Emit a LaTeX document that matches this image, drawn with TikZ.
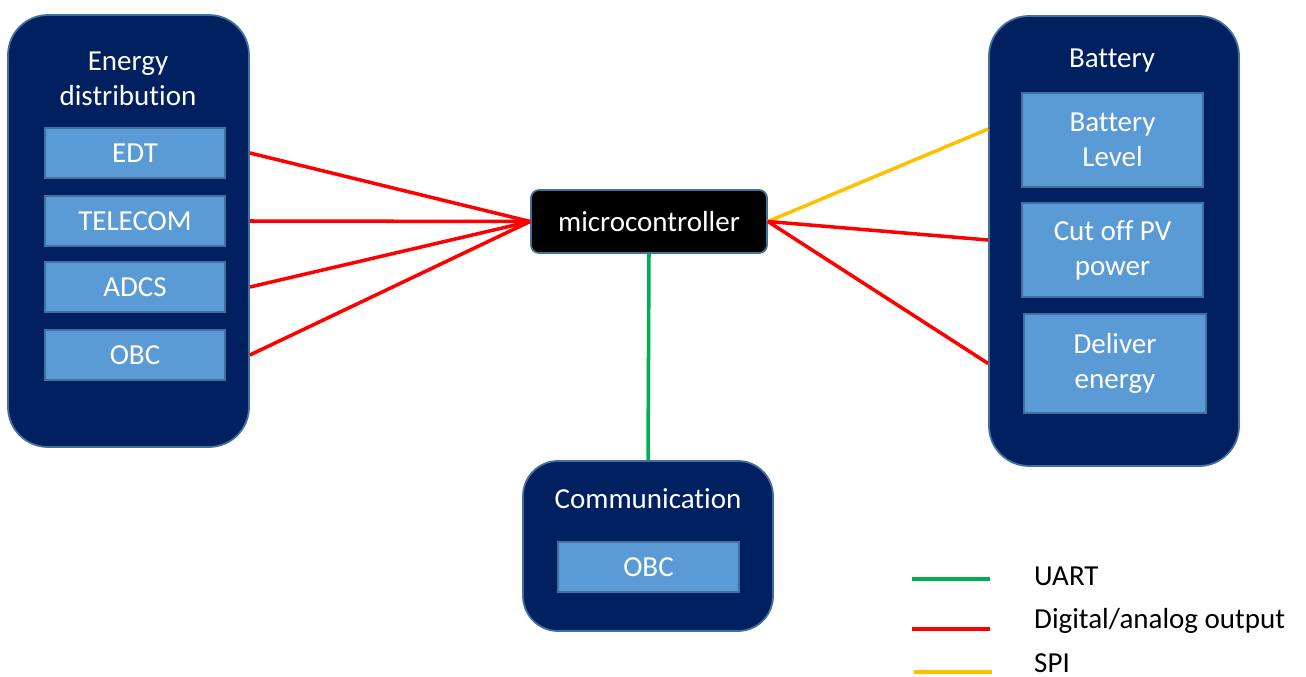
\documentclass[tikz,border=0pt]{standalone}
\usepackage{fontspec}
\setmainfont{Carlito}[Ligatures=NoCommon]
\usetikzlibrary{calc}

\definecolor{navy}{HTML}{002060}
\definecolor{edgeblue}{HTML}{41719C}
\definecolor{boxblue}{HTML}{5B9BD5}
\definecolor{uartgreen}{HTML}{00B050}
\definecolor{spiyellow}{HTML}{FFC000}

\begin{document}
\begin{tikzpicture}[
font=\fontsize{16.5}{20}\selectfont,
group/.style={draw=edgeblue,line width=1pt,fill=navy,rounded corners=0.8cm,inner sep=0pt},
item/.style={draw=edgeblue,line width=1pt,fill=boxblue,text=white,align=center,
	minimum width=3.6cm,minimum height=1cm,inner sep=0pt},
title/.style={text=white,align=center},
mcu/.style={draw=edgeblue,line width=1pt,fill=black,text=white,rounded corners=0.16cm,
	minimum width=4.72cm,minimum height=1.26cm},
bus/.style={line width=2pt},
uart/.style={bus,uartgreen},
digital/.style={bus,red},
spi/.style={bus,spiyellow},
%legend/.style={anchor=west},
]
\useasboundingbox (0,0) rectangle (26.12,-13.54);

% energy distribution
\node [group,minimum width=4.82cm,minimum height=8.64cm] (energy) at (2.57,-4.62) {};
\node [title] (energytitle) at (2.56,-1.58) {Energy\\distribution};
\node [item] (edt) at (2.7,-3.06) {EDT};
\node [item] (telecom) at (2.7,-4.42) {TELECOM};
\node [item] (adcs) at (2.7,-5.74) {ADCS};
\node [item] (obc) at (2.7,-7.10) {OBC};

% battery
\node [group,minimum width=5cm,minimum height=9cm] (battery) at (22.28,-4.82) {};
\node [title] (batterytitle) at (22.24,-1.22) {Battery};
\node [item,minimum width=3.62cm,minimum height=1.88cm] (level) at (22.25,-2.8) {Battery\\Level};
\node [item,minimum width=3.62cm,minimum height=1.88cm] (cutoff) at (22.25,-5.0) {Cut off PV\\power};
\node [item,minimum width=3.64cm,minimum height=1.98cm] (deliver) at (22.30,-7.27) {Deliver\\energy};

% communication
\node [group,rounded corners=0.7cm,minimum width=5cm,minimum height=3.4cm] (comm) at (12.96,-10.92) {};
\node [title] (commtitle) at (12.96,-9.98) {Communication};
\node [item,minimum width=3.62cm] (commobc) at (12.97,-11.34) {OBC};

\node [mcu] (micro) at (12.98,-4.43) {microcontroller};

% buses
\draw [digital] (edt -| energy.east) -- (micro.west);
\draw [digital] (telecom -| energy.east) -- (micro.west);
\draw [digital] (adcs -| energy.east) -- (micro.west);
\draw [digital] (obc -| energy.east) -- (micro.west);
\draw [spi] (micro.east) -- ($(level -| battery.west)+(0,0.22)$);
\draw [digital] (micro.east) -- ($(cutoff -| battery.west)+(0,0.2)$);
\draw [digital] (micro.east) -- (deliver -| battery.west);
\draw [uart] (micro.south) -- (comm.north);

% legend
\coordinate (uarta) at (18.24,-11.58);
\coordinate (uartb) at (19.80,-11.58);
\coordinate (diga) at (18.24,-12.58);
\coordinate (digb) at (19.80,-12.58);
\coordinate (spia) at (18.28,-13.44);
\coordinate (spib) at (19.84,-13.44);
\draw [uart] (uarta) -- (uartb);
\draw [digital] (diga) -- (digb);
\draw [spi] (spia) -- (spib);
\node [anchor=west] (uarttext) at (20.56,-11.52) {UART};
\node [anchor=west] (digtext) at (20.56,-12.42) {Digital/analog output};
\node [anchor=west] (spitext) at (20.56,-13.26) {SPI};
\end{tikzpicture}
\end{document}
